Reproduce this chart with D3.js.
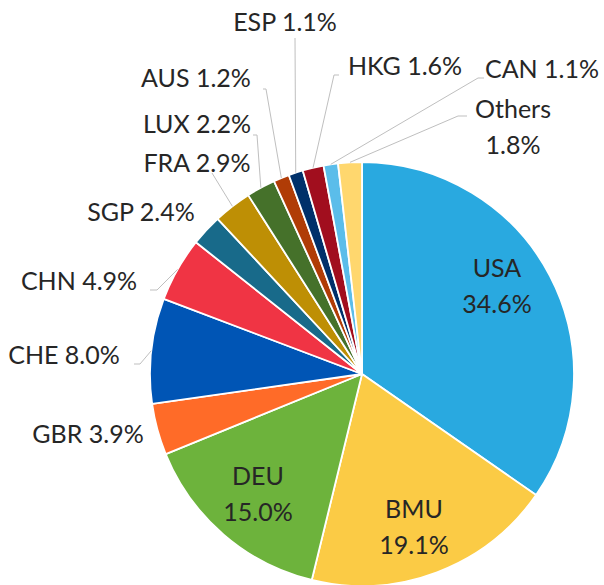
<!DOCTYPE html>
<html>
<head>
<meta charset="utf-8">
<script src="https://cdn.jsdelivr.net/npm/d3@7"></script>
<style>
  body { margin: 0; background: #fff; }
  text { font-family: Lato, "Open Sans", sans-serif; fill: #262626; }
</style>
</head>
<body>
<svg id="chart" width="604" height="585"></svg>
<script>
const countries = ["USA", "BMU", "DEU", "GBR", "CHE", "CHN", "SGP", "FRA", "LUX", "AUS", "ESP", "HKG", "CAN", "Others"];
const shares = [34.6, 19.1, 15.0, 3.9, 8.0, 4.9, 2.4, 2.9, 2.2, 1.2, 1.1, 1.6, 1.1, 1.8];
const colors = ["#29A9E0", "#FBCB45", "#6DB33C", "#FF6B28", "#0055B5", "#F03444", "#186A8A",
                "#BE8F05", "#45712A", "#B03C06", "#00306A", "#A10E1E", "#5BBDEA", "#FFD76E"];

// label layout: text anchor point (center x, baseline y of first line), optional elbow of the leader line
const labelLayout = {
  USA:    {x: 497, y: 277, inside: true},
  BMU:    {x: 414, y: 518, inside: true},
  DEU:    {x: 258, y: 485, inside: true},
  GBR:    {x: 88,  y: 443},
  CHE:    {x: 64,  y: 364, line: [[134, 364], [140, 364]]},
  CHN:    {x: 79,  y: 290, line: [[150, 290], [157, 290]]},
  SGP:    {x: 141, y: 221},
  FRA:    {x: 197, y: 172, line: [[212, 173]]},
  LUX:    {x: 197, y: 133, line: [[253, 135], [257, 135]]},
  AUS:    {x: 196, y: 87,  line: [[263, 89], [266, 89]]},
  ESP:    {x: 285, y: 31,  line: [[295, 38]]},
  HKG:    {x: 405, y: 75,  line: [[339, 75], [334, 75]]},
  CAN:    {x: 542, y: 78,  line: [[484, 78], [478, 78]]},
  Others: {x: 513, y: 118, two: true, line: [[467, 116], [458, 116]]}
};

const data = countries.map((c, i) => ({name: c, value: shares[i], color: colors[i]}));

const svg = d3.select("#chart");
const cx = 362, cy = 374, radius = 212;
const g = svg.append("g").attr("transform", `translate(${cx},${cy})`);

const pie = d3.pie().value(d => d.value).sort(null);
const arc = d3.arc().innerRadius(0).outerRadius(radius);
const arcs = pie(data);

g.selectAll("path.slice")
  .data(arcs)
  .enter().append("path")
  .attr("class", "slice")
  .attr("d", arc)
  .attr("fill", d => d.data.color)
  .attr("stroke", "#fff")
  .attr("stroke-width", 1.8)
  .attr("stroke-linejoin", "round");

// leader lines
const line = d3.line();
arcs.forEach(d => {
  const lay = labelLayout[d.data.name];
  if (!lay.line) return;
  const mid = (d.startAngle + d.endAngle) / 2;
  const end = [cx + radius * Math.sin(mid), cy - radius * Math.cos(mid)];
  svg.append("path")
    .attr("d", line([...lay.line, end]))
    .attr("fill", "none")
    .attr("stroke", "#BFBFBF")
    .attr("stroke-width", 1);
});

// labels
arcs.forEach(d => {
  const lay = labelLayout[d.data.name];
  const pct = d3.format(".1f")(d.data.value) + "%";
  const t = svg.append("text")
    .attr("x", lay.x)
    .attr("y", lay.y)
    .attr("text-anchor", "middle")
    .attr("font-size", 25);
  if (lay.inside || lay.two) {
    t.append("tspan").attr("x", lay.x).text(d.data.name);
    t.append("tspan").attr("x", lay.x).attr("dy", 36).text(pct);
  } else {
    t.text(`${d.data.name} ${pct}`);
  }
});
</script>
</body>
</html>
